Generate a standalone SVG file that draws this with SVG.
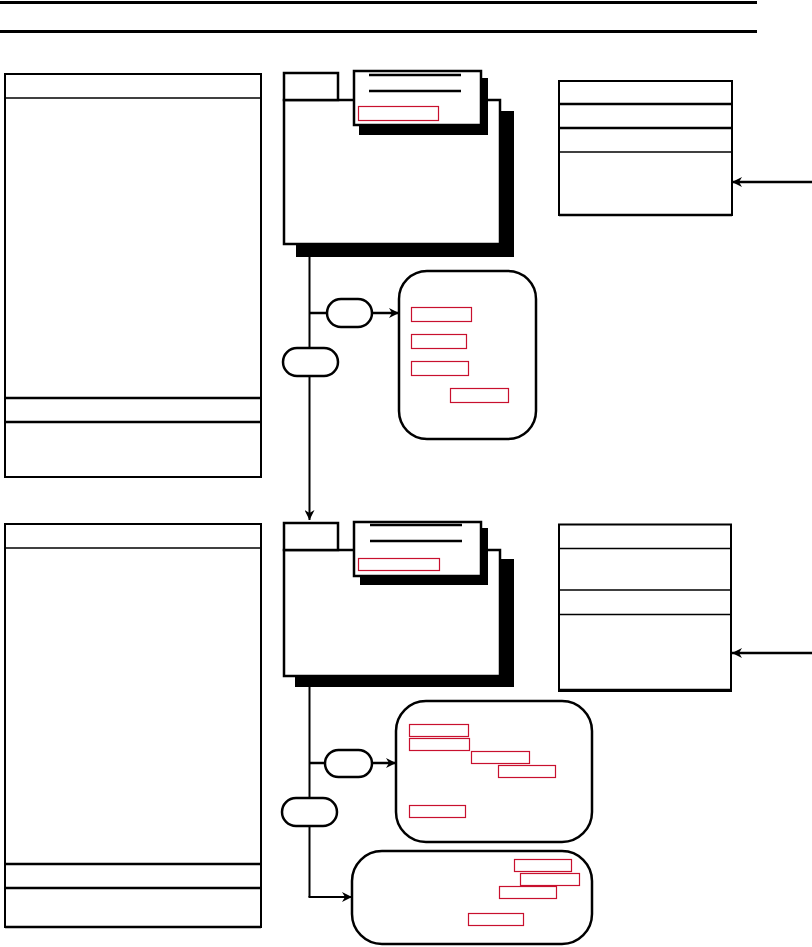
<svg xmlns="http://www.w3.org/2000/svg" width="812" height="947" viewBox="0 0 812 947">
<style>
.b{fill:#fff;stroke:#000;stroke-width:2}
.t{stroke:#000;stroke-width:1.5;fill:none}
.k{stroke:#000;stroke-width:2.5;fill:none}
.sh{fill:#000}
.r{fill:none;stroke:#c8102e;stroke-width:1.2}
.c{fill:none;stroke:#000;stroke-width:2}
.rb{fill:#fff;stroke:#000;stroke-width:2.5}
</style>
<defs>
<marker id="ah" viewBox="0 0 10 10" refX="10" refY="5" markerWidth="6" markerHeight="6" markerUnits="userSpaceOnUse" orient="auto">
<path d="M0,0 L10,5 L0,10 L3,5 Z" fill="#000"/>
</marker>
<marker id="ah2" viewBox="0 0 10 10" refX="10" refY="5" markerWidth="14" markerHeight="10" markerUnits="userSpaceOnUse" orient="auto">
<path d="M0,0 L10,5 L0,10 L3,5 Z" fill="#000"/>
</marker>
</defs>
<g id="header">
<line x1="0" y1="2.5" x2="757" y2="2.5" stroke="#000" stroke-width="3"/>
<line x1="0" y1="31.5" x2="757" y2="31.5" stroke="#000" stroke-width="3"/>
</g>
<g id="connectors">
<line class="c" x1="309.5" y1="244" x2="309.5" y2="520" marker-end="url(#ah2)"/>
<line class="k" x1="309.5" y1="313" x2="327" y2="313"/>
<line class="k" x1="372" y1="313" x2="399" y2="313" marker-end="url(#ah2)"/>
<line class="c" x1="309.5" y1="676" x2="309.5" y2="897"/>
<line class="c" x1="308.5" y1="897" x2="352" y2="897" marker-end="url(#ah2)"/>
<line class="k" x1="309.5" y1="763" x2="325" y2="763"/>
<line class="k" x1="372" y1="763" x2="396" y2="763" marker-end="url(#ah2)"/>
<line class="k" x1="812" y1="182" x2="732" y2="182" marker-end="url(#ah2)"/>
<line class="k" x1="812" y1="653" x2="732" y2="653" marker-end="url(#ah2)"/>
</g>
<g id="left-box-1">
<rect class="b" x="5" y="74" width="256" height="403"/>
<line class="t" x1="5" y1="98" x2="261" y2="98"/>
<line class="k" x1="5" y1="398" x2="261" y2="398"/>
<line class="k" x1="5" y1="422" x2="261" y2="422"/>
</g>
<g id="folder-1">
<rect class="sh" x="296" y="111" width="218" height="146"/>
<rect class="rb" x="284" y="100" width="216" height="144"/>
<rect class="rb" x="284" y="73" width="54" height="27"/>
<rect class="sh" x="359" y="78" width="129" height="57"/>
<rect class="rb" x="354" y="71" width="127" height="54"/>
<line x1="369" y1="75" x2="461" y2="75" stroke="#000" stroke-width="2.5"/>
<line x1="369" y1="91" x2="461" y2="91" stroke="#000" stroke-width="2.5"/>
<rect class="r" x="358.5" y="106.5" width="80" height="14"/>
</g>
<g id="right-box-1">
<rect class="b" x="559" y="81" width="173" height="134"/>
<line class="k" x1="559" y1="104" x2="732" y2="104"/>
<line class="k" x1="559" y1="128" x2="732" y2="128"/>
<line class="t" x1="559" y1="152" x2="732" y2="152"/>
<line class="k" x1="559" y1="215" x2="732" y2="215"/>
</g>
<g id="pill-1"><rect class="rb" x="327" y="299" width="45" height="28" rx="14"/></g>
<g id="pill-2"><rect class="rb" x="283" y="348" width="55" height="28" rx="14"/></g>
<g id="round-box-1">
<rect class="rb" x="399" y="271" width="137" height="168" rx="28"/>
<rect class="r" x="411.5" y="307.5" width="60" height="14"/>
<rect class="r" x="411.5" y="334.5" width="55" height="14"/>
<rect class="r" x="411.5" y="361.5" width="57" height="14"/>
<rect class="r" x="450.5" y="388.5" width="58" height="14"/>
</g>
<g id="left-box-2">
<rect class="b" x="5" y="524" width="256" height="403"/>
<line class="t" x1="5" y1="548" x2="261" y2="548"/>
<line class="k" x1="5" y1="864" x2="261" y2="864"/>
<line class="k" x1="5" y1="888" x2="261" y2="888"/>
<line class="k" x1="5" y1="927" x2="261" y2="927"/>
</g>
<g id="folder-2">
<rect class="sh" x="295" y="559" width="219" height="128"/>
<rect class="rb" x="284" y="550" width="216" height="126"/>
<rect class="rb" x="284" y="523" width="54" height="27"/>
<rect class="sh" x="360" y="528" width="128" height="57"/>
<rect class="rb" x="354" y="522" width="127" height="54"/>
<line x1="370" y1="525" x2="462" y2="525" stroke="#000" stroke-width="2.5"/>
<line x1="370" y1="541" x2="462" y2="541" stroke="#000" stroke-width="2.5"/>
<rect class="r" x="358.5" y="558.5" width="81" height="12"/>
</g>
<g id="right-box-2">
<rect class="b" x="559" y="524.5" width="172" height="166.5"/>
<line class="t" x1="559" y1="548.5" x2="731" y2="548.5"/>
<line class="t" x1="559" y1="590" x2="731" y2="590"/>
<line class="t" x1="559" y1="614.5" x2="731" y2="614.5"/>
<line class="k" x1="559" y1="690" x2="731" y2="690"/>
</g>
<g id="pill-3"><rect class="rb" x="325" y="750" width="47" height="27" rx="13.5"/></g>
<g id="pill-4"><rect class="rb" x="282" y="798" width="55" height="28" rx="14"/></g>
<g id="round-box-2">
<rect class="rb" x="396" y="701" width="196" height="141" rx="30"/>
<rect class="r" x="409.5" y="724.5" width="59" height="12"/>
<rect class="r" x="409.5" y="738.5" width="60" height="12"/>
<rect class="r" x="471.5" y="751.5" width="58" height="12"/>
<rect class="r" x="498.5" y="765.5" width="57" height="12"/>
<rect class="r" x="409.5" y="805.5" width="56" height="12"/>
</g>
<g id="round-box-3">
<rect class="rb" x="352" y="851" width="240" height="93" rx="30"/>
<rect class="r" x="514.5" y="859.5" width="57" height="12"/>
<rect class="r" x="520.5" y="873.5" width="59" height="12"/>
<rect class="r" x="499.5" y="886.5" width="57" height="12"/>
<rect class="r" x="468.5" y="913.5" width="55" height="12"/>
</g>
</svg>
